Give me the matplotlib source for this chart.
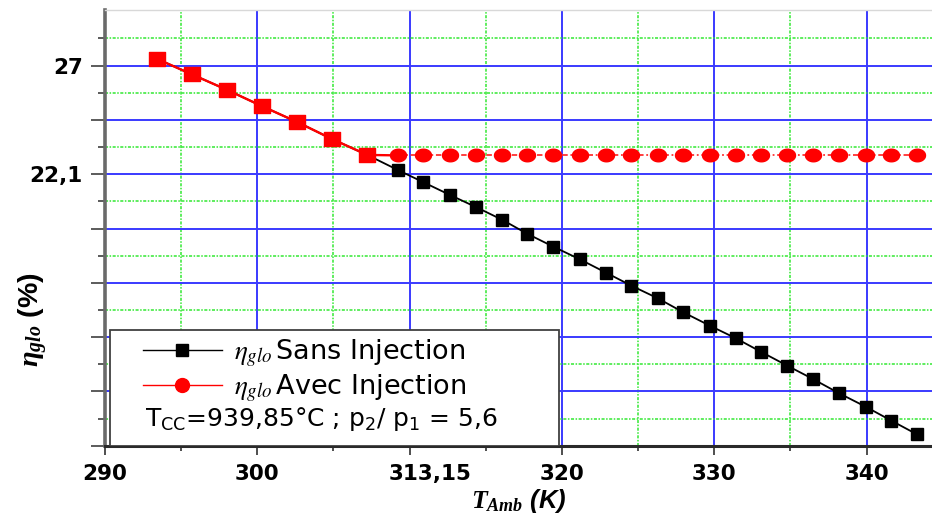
import numpy as np
import matplotlib
matplotlib.use("Agg")
import matplotlib.pyplot as plt
from matplotlib.lines import Line2D
from matplotlib.patches import Rectangle
from matplotlib.path import Path
from matplotlib.transforms import ScaledTranslation

# Ambient temperature (K)
t_amb = [293.43, 295.69, 298.03, 300.28, 302.63, 304.93, 307.22,
         309.23, 310.90, 312.63, 314.38, 316.09, 317.73, 319.44,
         321.18, 322.89, 324.56, 326.30, 327.97, 329.70, 331.41,
         333.09, 334.80, 336.48, 338.19, 339.94, 341.63, 343.29]

# Global efficiency without injection (%)
eta_sans = [27.30, 26.61, 25.90, 25.18, 24.45, 23.68, 22.97,
            22.29, 21.74, 21.17, 20.61, 20.04, 19.41, 18.83,
            18.26, 17.66, 17.07, 16.50, 15.87, 15.27, 14.70,
            14.08, 13.46, 12.86, 12.22, 11.61, 10.98, 10.37]

# Global efficiency with injection (%)
eta_avec = [27.30, 26.61, 25.90, 25.18, 24.45, 23.68, 22.97,
            22.95, 22.95, 22.95, 22.95, 22.95, 22.95, 22.95,
            22.95, 22.95, 22.95, 22.95, 22.95, 22.95, 22.95,
            22.95, 22.95, 22.95, 22.95, 22.95, 22.95, 22.95]

# number of points before injection starts
n_before = 7

x_major = [290, 300, 310, 320, 330, 340]
x_labels = ["290", "300", "313,15", "320", "330", "340"]
y_major = [9.85, 12.30, 14.75, 17.20, 19.65, 22.10, 24.55, 27.00]
y_labels = ["", "", "", "", "", "22,1", "", "27"]

plt.rcParams["mathtext.fontset"] = "custom"
plt.rcParams["mathtext.it"] = "Liberation Serif:italic:bold"
plt.rcParams["mathtext.rm"] = "Liberation Serif:bold"

fig = plt.figure(figsize=(9.32, 5.15), dpi=100)
ax = fig.add_axes([105 / 932, 1 - 445.7 / 515, 827 / 932, 435.7 / 515])

ax.set_xlim(290, 344.3)
ax.set_ylim(9.85, 29.51)

ax.set_xticks(x_major)
ax.set_xticks(np.arange(295, 344, 10), minor=True)
ax.set_xticklabels(x_labels)
ax.set_yticks(y_major)
ax.set_yticks([v + 1.225 for v in y_major], minor=True)
ax.set_yticklabels(y_labels)

for lab in ax.get_xticklabels() + ax.get_yticklabels():
    lab.set_fontfamily("DejaVu Sans")
    lab.set_fontweight("bold")
    lab.set_fontsize(15.5)

ax.tick_params(axis="x", which="major", length=6.5, width=1.2, color="#303030", pad=7)
ax.tick_params(axis="x", which="minor", length=3.6, width=1.2, color="#303030")
ax.tick_params(axis="y", which="major", length=10, width=1.2, color="#404040", pad=6)
ax.tick_params(axis="y", which="minor", length=5, width=1.2, color="#404040")

# shift the 313,15 label to the right of its tick
for lab in ax.get_xticklabels():
    if lab.get_text() == "313,15":
        lab.set_transform(lab.get_transform() + ScaledTranslation(20 / 100, 0, fig.dpi_scale_trans))

# grid
ax.grid(which="major", color="#3a3aff", lw=1.4, ls="-", zorder=0)
ax.grid(which="minor", color="#33e833", lw=1.1, ls=(0, (2, 1, 1, 1)), zorder=0)
ax.set_axisbelow(True)

ax.spines["left"].set_color("#6a6a6a")
ax.spines["left"].set_linewidth(2.6)
ax.spines["bottom"].set_color("#2a2a2a")
ax.spines["bottom"].set_linewidth(2.2)
ax.spines["top"].set_color("#d8d8d8")
ax.spines["top"].set_linewidth(1.0)
ax.spines["right"].set_visible(False)

# markers
sq = Path([(-0.6, -0.5), (0.6, -0.5), (0.6, 0.5), (-0.6, 0.5), (-0.6, -0.5)],
          [Path.MOVETO, Path.LINETO, Path.LINETO, Path.LINETO, Path.CLOSEPOLY])
th = np.linspace(0, 2 * np.pi, 60)
ell = Path(np.column_stack([1.27 * np.cos(th), np.sin(th)]), closed=True)

ax.plot(t_amb, eta_sans, color="black", lw=1.3, marker="s", ms=8.5,
        mfc="black", mec="black", zorder=3)
ax.plot(t_amb[:n_before + 1], eta_avec[:n_before + 1], color="red", lw=1.7, zorder=4)
ax.plot(t_amb[n_before:], eta_avec[n_before:], color="#ff3030", lw=1.3,
        ls=(0, (3, 1.5, 1, 1.5)), zorder=4)
ax.plot(t_amb[:n_before], eta_avec[:n_before], ls="none", marker=sq, ms=12,
        mfc="red", mec="red", zorder=5)
ax.plot(t_amb[n_before:], eta_avec[n_before:], ls="none", marker=ell, ms=11.5,
        mfc="red", mec="red", zorder=5)

# axis labels
ax.set_xlabel(r"$T_{Amb}$ (K)", fontfamily="Liberation Sans", fontweight="bold",
              fontstyle="italic", fontsize=18.5, va="center")
ax.xaxis.set_label_coords(0.5, -0.128)
ax.set_ylabel(r"$\eta_{glo}$ (%)", fontfamily="Liberation Sans", fontweight="bold",
              fontsize=20.5, va="center")
ax.yaxis.set_label_coords(-0.087, 0.2885)

# legend box
box = Rectangle((0.006, 0.0), 0.5425, 0.2655, transform=ax.transAxes,
                facecolor="white", edgecolor="#404040", lw=1.3, zorder=6)
ax.add_patch(box)

h_sans = Line2D([], [], color="black", lw=1.0, marker="s", ms=9, mfc="black", mec="black")
h_avec = Line2D([], [], color="red", lw=1.0, marker="o", ms=10, mfc="red", mec="red")
leg = ax.legend([h_sans, h_avec],
                [r"$\eta_{glo}\,$Sans Injection", r"$\eta_{glo}\,$Avec Injection"],
                loc="upper left", bbox_to_anchor=(0.046, 0.248), frameon=False,
                borderpad=0, borderaxespad=0, handlelength=2.9, handletextpad=0.45,
                labelspacing=0.12, prop={"family": "DejaVu Sans", "size": 19.5})
leg.set_zorder(7)
for t in leg.get_texts():
    t.set_math_fontfamily("stix")

ax.text(0.048, 0.062, r"T$_{\mathrm{CC}}$=939,85°C ; p$_{\mathrm{2}}$/ p$_{\mathrm{1}}$ = 5,6",
        transform=ax.transAxes, fontfamily="DejaVu Sans", fontsize=18,
        va="center", ha="left", math_fontfamily="dejavusans", zorder=7)

fig.savefig("out.png", dpi=100)
